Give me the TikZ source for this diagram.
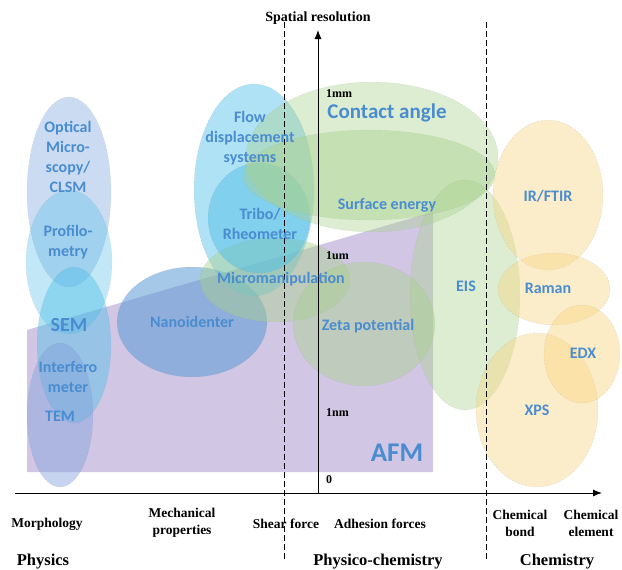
\documentclass[tikz,border=0pt]{standalone}
\usepackage{fontspec}
\setmainfont{Liberation Serif}
\newfontfamily\labfont{Carlito}
\usetikzlibrary{arrows.meta}
\definecolor{labc}{RGB}{74,140,208}
\definecolor{optc}{RGB}{160,192,232}
\definecolor{cyanc}{RGB}{80,190,232}
\definecolor{greenc}{RGB}{169,209,142}
\definecolor{yellc}{RGB}{247,212,128}
\definecolor{purpc}{RGB}{190,175,218}
\definecolor{nanoc}{RGB}{91,155,213}
\definecolor{temc}{RGB}{130,160,220}
\definecolor{rimc}{RGB}{150,150,150}
\tikzset{
  lbl/.style={font=\labfont\bfseries\fontsize{16}{20}\selectfont, text=labc, align=center, inner sep=0pt},
  axlbl/.style={font=\bfseries\fontsize{13.5}{17}\selectfont, align=center, inner sep=0pt},
  catlbl/.style={font=\bfseries\fontsize{16.5}{19}\selectfont, inner sep=0pt},
  ticklbl/.style={font=\bfseries\fontsize{12}{14}\selectfont, anchor=west, inner sep=0pt},
  blob/.style={draw=rimc, draw opacity=0.25, line width=0.4pt, dash pattern=on 2pt off 1.5pt},
  sep/.style={dashed, dash pattern=on 6pt off 3pt, line width=0.8pt},
  axis/.style={line width=1pt, -{Latex[length=9pt,width=7pt]}},
}
\begin{document}
\begin{tikzpicture}[x=1pt,y=-1pt]
\useasboundingbox (0,0) rectangle (622,570);
% AFM region
\fill[purpc, opacity=0.7] (27,330) -- (433,212) -- (433,472) -- (27,472) -- cycle;
% left column
\filldraw[blob, fill=optc, fill opacity=0.55] (69,192) ellipse [x radius=42, y radius=95];
\filldraw[blob, fill=cyanc, fill opacity=0.35] (69,262) ellipse [x radius=43, y radius=72];
\filldraw[blob, fill=cyanc, fill opacity=0.45] (74,345) ellipse [x radius=37, y radius=78];
\filldraw[blob, fill=temc, fill opacity=0.45] (60,415) ellipse [x radius=33, y radius=72];
% mechanical
\filldraw[blob, fill=nanoc, fill opacity=0.55] (192,322) ellipse [x radius=75, y radius=55];
\filldraw[blob, fill=cyanc, fill opacity=0.45] (254,190) ellipse [x radius=60, y radius=106];
\filldraw[blob, fill=greenc, fill opacity=0.45] (275,280) ellipse [x radius=75, y radius=42];
\filldraw[blob, fill=cyanc, fill opacity=0.5] (259,218) ellipse [x radius=51, y radius=55];
% physico-chemistry
\filldraw[blob, fill=greenc, fill opacity=0.4] (372,157) ellipse [x radius=126, y radius=75];
\filldraw[blob, fill=greenc, fill opacity=0.45] (369,175) ellipse [x radius=126, y radius=45];
\filldraw[blob, fill=greenc, fill opacity=0.45] (364,324) ellipse [x radius=71, y radius=62];
\filldraw[blob, fill=greenc, fill opacity=0.4] (465,295) ellipse [x radius=55, y radius=115];
% chemistry
\filldraw[blob, fill=yellc, fill opacity=0.42] (548,195) ellipse [x radius=55, y radius=75];
\filldraw[blob, fill=yellc, fill opacity=0.42] (554,289) ellipse [x radius=56, y radius=36];
\filldraw[blob, fill=yellc, fill opacity=0.42] (537,410) ellipse [x radius=61, y radius=77];
\filldraw[blob, fill=yellc, fill opacity=0.45] (582,354) ellipse [x radius=38, y radius=49];
% separators
\draw[sep] (284,22) -- (284,560);
\draw[sep] (486,22) -- (486,560);
% axes
\coordinate (o) at (318,493);
\coordinate (ytop) at (318,30);
\coordinate (xl) at (15,493);
\coordinate (xr) at (602,493);
\draw[axis] (o) -- (ytop);
\draw[axis] (xl) -- (xr);
\node[axlbl, font=\bfseries\fontsize{14}{17}\selectfont] (sr) at (318,18) {Spatial resolution};
% ticks
\node[ticklbl] (t1) at (326,94) {1mm};
\node[ticklbl] (t2) at (326,256) {1um};
\node[ticklbl] (t3) at (326,413) {1nm};
\node[ticklbl] (t4) at (326,480) {0};
% labels
\node[lbl] (optical) at (68,157) {Optical\\Micro-\\scopy/\\CLSM};
\node[lbl] (profilo) at (68,242) {Profilo-\\metry};
\node[lbl, font=\labfont\bfseries\fontsize{20}{24}\selectfont] (sem) at (69,325) {SEM};
\node[lbl] (interf) at (68,377) {Interfero\\meter};
\node[lbl] (tem) at (60,416) {TEM};
\node[lbl] (nano) at (192,322) {Nanoidenter};
\node[lbl] (flow) at (250,138) {Flow\\displacement\\systems};
\node[lbl] (tribo) at (260,224) {Tribo/\\Rheometer};
\node[lbl] (micro) at (281,279) {Micromanipulation};
\node[lbl, font=\labfont\bfseries\fontsize{21}{24}\selectfont] (contact) at (387,113) {Contact angle};
\node[lbl] (surface) at (387,205) {Surface energy};
\node[lbl] (zeta) at (368,326) {Zeta potential};
\node[lbl] (eis) at (466,286) {EIS};
\node[lbl] (ir) at (548,196) {IR/FTIR};
\node[lbl] (raman) at (548,288) {Raman};
\node[lbl] (edx) at (583,353) {EDX};
\node[lbl] (xps) at (537,410) {XPS};
\node[lbl, font=\labfont\bfseries\fontsize{27}{30}\selectfont] (afm) at (397,453) {AFM};
% axis categories
\node[axlbl] (morph) at (47,524) {Morphology};
\node[axlbl] (mech) at (182,523) {Mechanical\\properties};
\node[axlbl] (shear) at (286,524) {Shear force};
\node[axlbl] (adh) at (380,524) {Adhesion forces};
\node[axlbl] (bond) at (520,523) {Chemical\\bond};
\node[axlbl] (elem) at (591,523) {Chemical\\element};
\node[catlbl] (phys) at (43,562) {Physics};
\node[catlbl] (pchem) at (378,562) {Physico-chemistry};
\node[catlbl] (chem) at (557,562) {Chemistry};
\end{tikzpicture}
\end{document}
